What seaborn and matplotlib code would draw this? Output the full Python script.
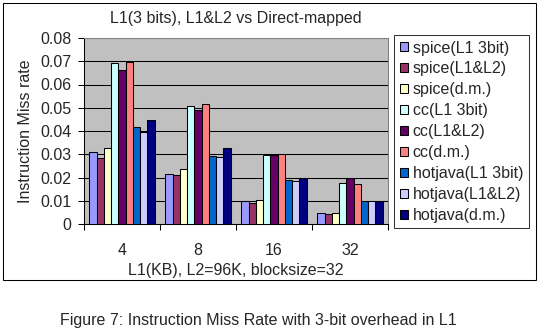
import matplotlib
matplotlib.use("Agg")
import matplotlib.pyplot as plt
import seaborn as sns
import pandas as pd
import numpy as np
from matplotlib.patches import Rectangle
from matplotlib.ticker import FixedLocator, FuncFormatter

# ---- data ----
categories = ["4", "8", "16", "32"]
series = ["spice(L1 3bit)", "spice(L1&L2)", "spice(d.m.)",
          "cc(L1 3bit)", "cc(L1&L2)", "cc(d.m.)",
          "hotjava(L1 3bit)", "hotjava(L1&L2)", "hotjava(d.m.)"]
spice_l1_3bit = [0.0311, 0.0214, 0.0098, 0.0046]
spice_l1l2 = [0.0283, 0.0209, 0.0089, 0.0042]
spice_dm = [0.0326, 0.0235, 0.0102, 0.0046]
cc_l1_3bit = [0.0691, 0.0506, 0.0295, 0.0175]
cc_l1l2 = [0.0661, 0.0489, 0.0295, 0.0196]
cc_dm = [0.0695, 0.0515, 0.0300, 0.0170]
hotjava_l1_3bit = [0.0416, 0.0291, 0.0188, 0.0098]
hotjava_l1l2 = [0.0394, 0.0287, 0.0184, 0.0098]
hotjava_dm = [0.0446, 0.0326, 0.0199, 0.0100]
yticks = [0, 0.01, 0.02, 0.03, 0.04, 0.05, 0.06, 0.07, 0.08]

colors = ["#9999FF", "#993366", "#FFFFCC", "#CCFFFF", "#660066",
          "#FF8080", "#0066CC", "#CCCCFF", "#000080"]

all_vals = [spice_l1_3bit, spice_l1l2, spice_dm, cc_l1_3bit, cc_l1l2, cc_dm,
            hotjava_l1_3bit, hotjava_l1l2, hotjava_dm]
rows = []
for s, vals in zip(series, all_vals):
    for c, v in zip(categories, vals):
        rows.append({"L1": c, "series": s, "rate": v})
df = pd.DataFrame(rows)

sns.set_style("white")
plt.rcParams["font.family"] = ["Liberation Sans", "DejaVu Sans"]
FS = 11.5

W, H = 548, 330
fig = plt.figure(figsize=(W / 100, H / 100), dpi=100)
ax = fig.add_axes([84 / W, 1 - 224 / H, 304 / W, 186 / H])
ax.set_facecolor("#C0C0C0")

sns.barplot(data=df, x="L1", y="rate", hue="series", order=categories,
            hue_order=series, palette=colors, width=0.86, edgecolor="black",
            linewidth=0.75, saturation=1, ax=ax, zorder=3)

ax.set_ylim(0, 0.08)
ax.set_xlim(-0.5, len(categories) - 0.5)
ax.set_yticks(yticks)
ax.yaxis.set_major_formatter(FuncFormatter(lambda v, p: "0" if abs(v) < 1e-9 else f"{v:.2f}"))
ax.yaxis.grid(True, color="black", linewidth=0.75, zorder=1)
ax.set_axisbelow(True)
ax.xaxis.set_minor_locator(FixedLocator(np.arange(-0.5, len(categories), 1.0)))
ax.tick_params(axis="x", which="major", length=0, pad=14, labelsize=FS)
ax.tick_params(axis="x", which="minor", length=4, width=0.75, color="black", direction="out", bottom=True)
ax.tick_params(axis="y", which="major", length=4, width=0.75, color="black", direction="out", left=True, pad=5, labelsize=FS)

for side in ["left", "bottom"]:
    ax.spines[side].set_color("black")
    ax.spines[side].set_linewidth(0.75)
for side in ["top", "right"]:
    ax.spines[side].set_color("#808080")
    ax.spines[side].set_linewidth(0.75)

ax.set_xlabel("L1(KB), L2=96K, blocksize=32", fontsize=FS, labelpad=3)
ax.set_ylabel("Instruction Miss rate", fontsize=FS, labelpad=5.5)

handles, labels = ax.get_legend_handles_labels()
leg = ax.legend(handles, labels, loc="upper left",
                bbox_to_anchor=(394 / W, 1 - 35 / H), bbox_transform=fig.transFigure,
                frameon=True, fancybox=False, fontsize=FS, borderpad=0.35,
                labelspacing=0.37, handlelength=0.5, handleheight=0.5,
                handletextpad=0.33, borderaxespad=0)
leg.get_frame().set_edgecolor("black")
leg.get_frame().set_linewidth(0.75)
for h in leg.legend_handles:
    h.set_edgecolor("black")
    h.set_linewidth(0.75)

fig.text(236 / W, 1 - 18 / H, "L1(3 bits), L1&L2 vs Direct-mapped",
         ha="center", va="center", fontsize=FS)
fig.text(258 / W, 1 - 320 / H, "Figure 7: Instruction Miss Rate with 3-bit overhead in L1",
         ha="center", va="center", fontsize=FS)

fig.patches.append(Rectangle((3 / W, 1 - 280 / H), 533 / W, 277 / H,
                             transform=fig.transFigure, fill=False,
                             edgecolor="black", linewidth=0.75))

fig.savefig("out.png", dpi=100)
